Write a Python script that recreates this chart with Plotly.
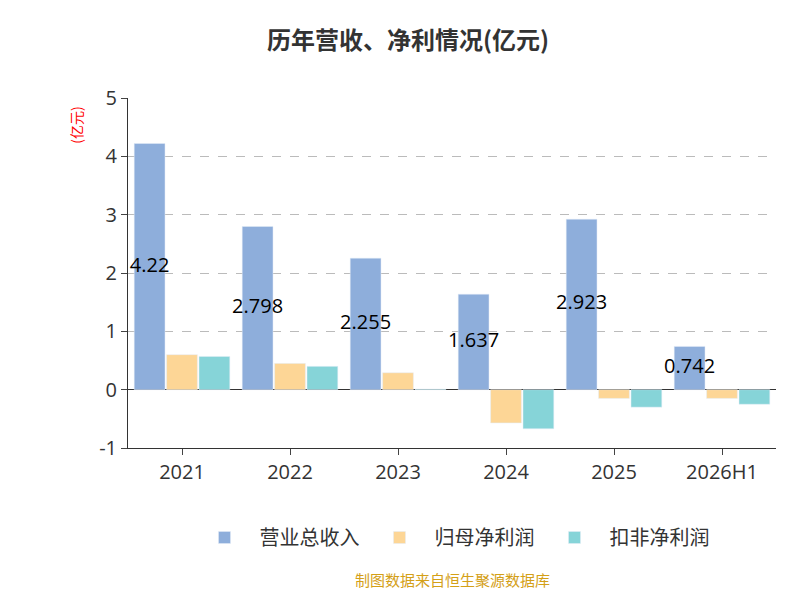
import plotly.graph_objects as go

years = ["2021", "2022", "2023", "2024", "2025", "2026H1"]
revenue = [4.22, 2.798, 2.255, 1.637, 2.923, 0.742]
net_profit = [0.60, 0.45, 0.29, -0.57, -0.15, -0.15]
deducted = [0.57, 0.40, 0.01, -0.67, -0.30, -0.25]
y_ticks = [-1, 0, 1, 2, 3, 4, 5]

idx = list(range(len(years)))
fig = go.Figure()
fig.add_bar(x=idx, y=revenue, name="营业总收入", marker_color="#8eaedb")
fig.add_bar(x=idx, y=net_profit, name="归母净利润", marker_color="#fdd696")
fig.add_bar(x=idx, y=deducted, name="扣非净利润", marker_color="#86d4d8")
fig.add_scatter(x=[i - 0.3 for i in idx], y=[v / 2 for v in revenue], mode="text",
                text=[str(v) for v in revenue], textfont=dict(size=20, color="black",
                family="Open Sans"),
                showlegend=False, hoverinfo="skip", cliponaxis=False)

fig.update_layout(
    width=800, height=600, plot_bgcolor="white", paper_bgcolor="white",
    font=dict(family="Noto Sans CJK SC", color="#333"),
    title=dict(text="<b>历年营收、净利情况(亿元)</b>", x=0.5, y=0.96, xanchor="center",
               font=dict(size=24, color="#333")),
    barmode="group", bargap=0.1, bargroupgap=0.05,
    margin=dict(l=120, r=32, t=90, b=160),
    xaxis=dict(showline=True, linecolor="#333", ticks="outside", ticklen=6,
               tickvals=idx, ticktext=years, range=[-0.5, 5.5],
               tickfont=dict(size=20, family="Open Sans"), zeroline=False, showgrid=False),
    yaxis=dict(range=[-1, 5], tickvals=y_ticks, ticktext=[str(t) for t in y_ticks],
               showgrid=True, gridcolor="#bbb", griddash="dash",
               showline=True, linecolor="#333", ticks="outside", ticklen=6,
               tickfont=dict(size=20, family="Open Sans"),
               zeroline=True, zerolinecolor="#333", zerolinewidth=1),
    legend=dict(orientation="h", x=0.5, xanchor="center", y=-0.2, yanchor="top",
                font=dict(size=20), itemwidth=60),
    annotations=[
        dict(text="(亿元)", x=-0.1, y=0.98, xref="paper", yref="paper", showarrow=False,
             yanchor="top", textangle=-90, font=dict(color="red", size=14)),
        dict(text="制图数据来自恒生聚源数据库", x=0.5, y=-0.41, xref="paper", yref="paper",
             xanchor="center", showarrow=False, font=dict(color="#d4a017", size=15)),
    ],
)
fig.write_html("out.html")
